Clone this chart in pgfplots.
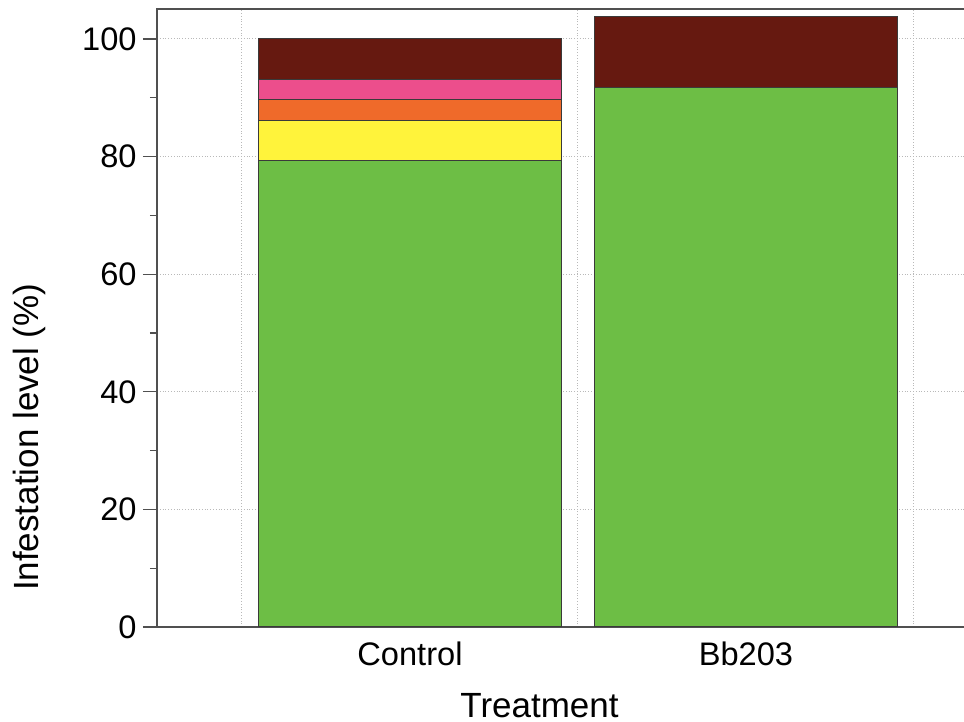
\documentclass[border=0pt]{standalone}
\usepackage{fontspec}
\setmainfont{Liberation Sans}
\usepackage{pgfplots}
\pgfplotsset{compat=1.18}
\definecolor{cgreen}{HTML}{6DBE45}
\definecolor{cyellow}{HTML}{FFF33B}
\definecolor{corange}{HTML}{EF6A2A}
\definecolor{cpink}{HTML}{EC4E8C}
\definecolor{cdred}{HTML}{661910}
\definecolor{cedge}{HTML}{3A3A3A}
\definecolor{caxis}{HTML}{505050}
\begin{document}
\begin{tikzpicture}
\begin{axis}[
  scale only axis, width=403.5pt, height=309pt,
  xmin=-0.753, xmax=1.649, ymin=0, ymax=105.1,
  ybar stacked, bar width=0.9,
  xtick={0,1}, xticklabels={Control,Bb203},
  minor xtick={-0.5,0.5,1.5},
  ytick={0,20,...,100}, minor y tick num=1,
  ytick pos=left, xtick pos=bottom,
  ymajorgrids, xminorgrids,
  major grid style={densely dotted, gray!55, line width=0.5pt},
  minor grid style={densely dotted, gray!55, line width=0.5pt},
  axis line style={draw=none},
  tick align=outside,
  major tick length=7pt, minor tick length=3.5pt,
  x tick style={draw=none},
  y tick style={caxis, line width=0.6pt},
  /pgf/number format/assume math mode=true,
  tick label style={font=\fontsize{16.3}{18}\selectfont},
  yticklabel style={anchor=east, inner sep=0pt, xshift=-3pt},
  xticklabel style={anchor=north, inner sep=0pt},
  label style={font=\fontsize{17.5}{20}\selectfont},
  xlabel={Treatment},
  ylabel={Infestation level (\%)},
  xlabel style={at={(axis description cs:0.474,0)}, anchor=north, inner sep=0pt, yshift=-33pt},
  ylabel style={at={(axis description cs:-0.1784,0.307)}, anchor=north, inner sep=0pt},
  clip=false,
]
\addplot[fill=cgreen, draw=cedge, line width=0.5pt] coordinates {(0,79.31) (1,91.8)};
\addplot[fill=cyellow, draw=cedge, line width=0.5pt] coordinates {(0,6.90) (1,0)};
\addplot[fill=corange, draw=cedge, line width=0.5pt] coordinates {(0,3.45) (1,0)};
\addplot[fill=cpink, draw=cedge, line width=0.5pt] coordinates {(0,3.45) (1,0)};
\addplot[fill=cdred, draw=cedge, line width=0.5pt] coordinates {(0,6.90) (1,12.1)};
\draw[caxis, line width=0.75pt] (rel axis cs:1,1) -- (rel axis cs:0,1) -- (rel axis cs:0,0) -- (rel axis cs:1,0);
\coordinate (sw) at (rel axis cs:0,0);
\coordinate (ne) at (rel axis cs:1,1);
\end{axis}
\pgfresetboundingbox
\path[use as bounding box] ([xshift=-78.5pt,yshift=-47.5pt]sw) rectangle ([yshift=4.5pt]ne);
\end{tikzpicture}
\end{document}
